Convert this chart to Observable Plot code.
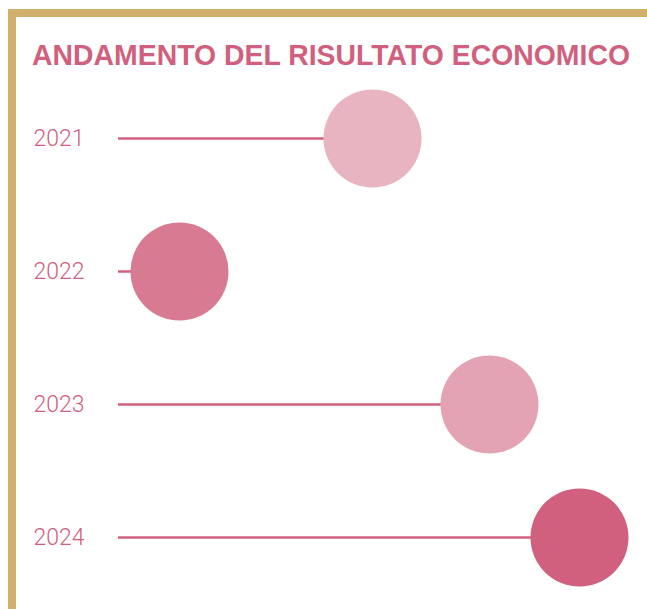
<!DOCTYPE html>
<html>
<head>
<meta charset="utf-8">
<script src="https://cdn.jsdelivr.net/npm/d3@7"></script>
<script src="https://cdn.jsdelivr.net/npm/@observablehq/plot@0.6"></script>
<style>
  html, body { margin: 0; padding: 0; background: #fff; }
  #page { position: relative; width: 647px; height: 609px; overflow: hidden; }
  #frame { position: absolute; left: 8px; top: 9px; width: 634px; height: 620px;
           border: 8px solid #d0b06c; border-right-width: 4px; box-sizing: content-box; }
  #title { position: absolute; left: 32px; top: 40.7px; margin: 0; white-space: nowrap;
           font-family: "Liberation Sans", Arial, sans-serif; font-weight: bold; font-size: 29px;
           color: #d0607e; transform-origin: 0 0; line-height: 1; }
  #chart { position: absolute; left: 0; top: 0; }
</style>
</head>
<body>
<div id="page">
  <div id="frame"></div>
  <div id="chart"></div>
  <h1 id="title">ANDAMENTO DEL RISULTATO ECONOMICO</h1>
</div>
<script>
const years = ["2021", "2022", "2023", "2024"];
const values = [254, 61, 371, 461];
const colors = ["#e8b4c0", "#d87a91", "#e3a3b2", "#d0607e"];

const data = years.map((y, i) => ({year: y, value: values[i]}));

const chart = Plot.plot({
  width: 647,
  height: 609,
  marginLeft: 118,
  marginRight: 0,
  marginTop: 0,
  marginBottom: 0,
  style: {background: "transparent", fontFamily: "Roboto, 'Liberation Sans', sans-serif"},
  x: {domain: [0, 529], axis: null},
  y: {type: "point", domain: years, range: [137, 537], padding: 0},
  color: {type: "ordinal", domain: years, range: colors},
  marks: [
    Plot.axisY({tickSize: 0, textAnchor: "start", dx: -76, fontSize: 23, fontWeight: 300, fill: "#d0607e", label: null}),
    Plot.ruleY(data, {y: "year", x1: 0, x2: "value", stroke: "#d0607e", strokeWidth: 2.5}),
    Plot.dot(data, {x: "value", y: "year", r: 49, fill: "year", stroke: null})
  ]
});
document.getElementById("chart").appendChild(chart);

const t = document.getElementById("title");
const w = t.getBoundingClientRect().width;
t.style.transform = `scaleX(${598 / w})`;
</script>
</body>
</html>
